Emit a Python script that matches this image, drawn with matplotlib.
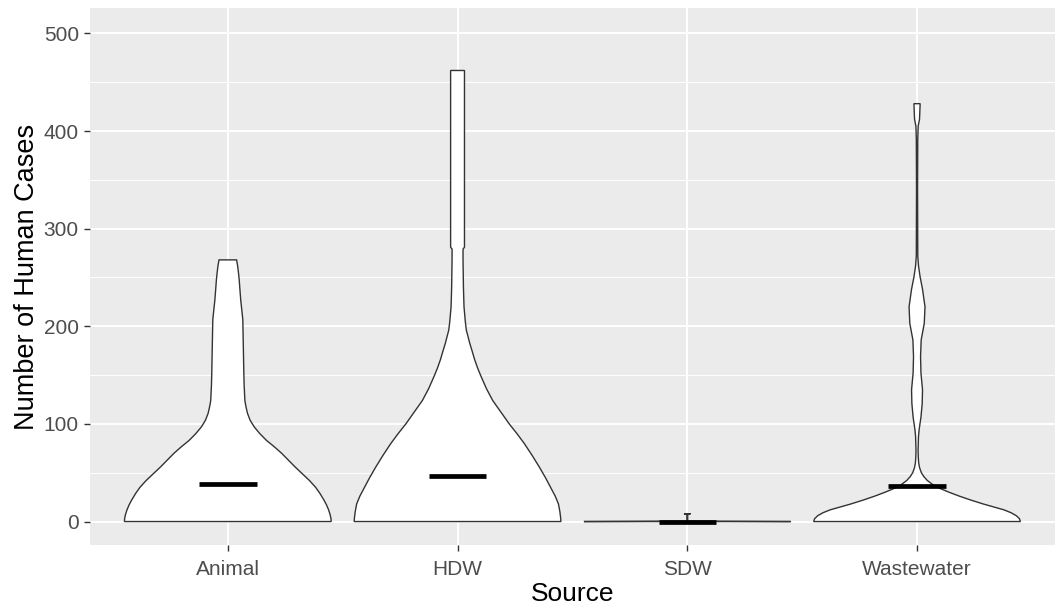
import numpy as np
import matplotlib
matplotlib.use("Agg")
import matplotlib.pyplot as plt
from matplotlib.ticker import MultipleLocator

plt.rcParams['font.family'] = ['Liberation Sans', 'DejaVu Sans']

# categories and summary values
sources = ["Animal", "HDW", "SDW", "Wastewater"]
medians = [38, 47, 0, 36]

# violin outlines: case counts (y) and relative half-width (1 = widest point)
animal_y = [0, 3, 7, 12, 17, 22, 29, 35, 42, 49, 56, 63, 70, 77, 83, 90, 97, 104, 111,
            118, 124, 140, 152, 180, 207, 217, 227, 238, 248, 255, 262, 268]
animal_w = [1.0, 0.998, 0.99, 0.975, 0.955, 0.93, 0.89, 0.85, 0.79, 0.72, 0.65, 0.585,
            0.52, 0.445, 0.375, 0.31, 0.255, 0.215, 0.19, 0.175, 0.165, 0.158, 0.155,
            0.15, 0.145, 0.135, 0.125, 0.117, 0.11, 0.103, 0.095, 0.085]

hdw_y = [0, 4, 10, 18, 26, 35, 45, 56, 68, 80, 90, 100, 112, 124, 136, 148, 157, 166,
         175, 183, 190, 196, 205, 220, 240, 268, 279, 281, 462]
hdw_w = [1.0, 0.997, 0.99, 0.976, 0.945, 0.90, 0.85, 0.79, 0.72, 0.645, 0.575, 0.50,
         0.42, 0.34, 0.28, 0.23, 0.195, 0.165, 0.14, 0.117, 0.10, 0.085, 0.075, 0.0625,
         0.057, 0.053, 0.053, 0.067, 0.067]

sdw_y = [0, 0.4, 7.5, 8]
sdw_w = [1.0, 0.004, 0.004, 0.032]

ww_y = [0, 3, 6, 9, 12, 15, 18, 22, 26, 30, 34, 38, 42, 46, 50, 55, 60, 66, 73, 87, 94,
        107, 121, 135, 152, 169, 186, 203, 220, 238, 251, 262, 272, 340, 392, 405, 412, 428]
ww_w = [1.0, 0.99, 0.96, 0.91, 0.84, 0.74, 0.64, 0.52, 0.41, 0.31, 0.22, 0.15, 0.10,
        0.066, 0.042, 0.025, 0.016, 0.012, 0.01, 0.014, 0.02, 0.038, 0.05, 0.053, 0.038,
        0.034, 0.04, 0.07, 0.077, 0.053, 0.029, 0.014, 0.007, 0.005, 0.007, 0.011, 0.024,
        0.03]

profiles = [(animal_y, animal_w), (hdw_y, hdw_w), (sdw_y, sdw_w), (ww_y, ww_w)]

fig = plt.figure(figsize=(10.57, 6.10), dpi=100)
ax = fig.add_axes([0.0851, 0.1066, 0.9129, 0.8803])
ax.set_facecolor('#EBEBEB')

for i, (ys, ws) in enumerate(profiles):
    pos = i + 1
    ys = np.array(ys, dtype=float)
    ws = np.array(ws) * 0.45
    xs = np.concatenate([pos - ws, (pos + ws)[::-1]])
    yy = np.concatenate([ys, ys[::-1]])
    ax.fill(xs, yy, facecolor='white', edgecolor='#333333', lw=1.0, zorder=3)

pos = np.arange(1, len(sources) + 1)
ax.hlines(medians, pos - 0.125, pos + 0.125, colors='black', lw=3.4, zorder=4)

ax.set_xlim(0.4, 4.6)
ax.set_ylim(-24, 526)
ax.set_xticks(pos)
ax.set_xticklabels(sources)
ax.yaxis.set_major_locator(MultipleLocator(100))
ax.yaxis.set_minor_locator(MultipleLocator(50))
ax.grid(which='major', color='white', lw=1.4, zorder=0)
ax.grid(which='minor', axis='y', color='white', lw=0.7, zorder=0)
ax.set_axisbelow(True)
for s in ax.spines.values():
    s.set_visible(False)
ax.tick_params(which='major', length=4, width=1, color='#333333',
               labelcolor='#4D4D4D', labelsize=15, pad=4)
ax.tick_params(axis='x', pad=7)
ax.tick_params(which='minor', length=0)

ax.set_xlabel("Source", fontsize=19, labelpad=2)
ax.set_ylabel("Number of Human Cases", fontsize=19.5, labelpad=3)

fig.savefig("out.png", dpi=100)
